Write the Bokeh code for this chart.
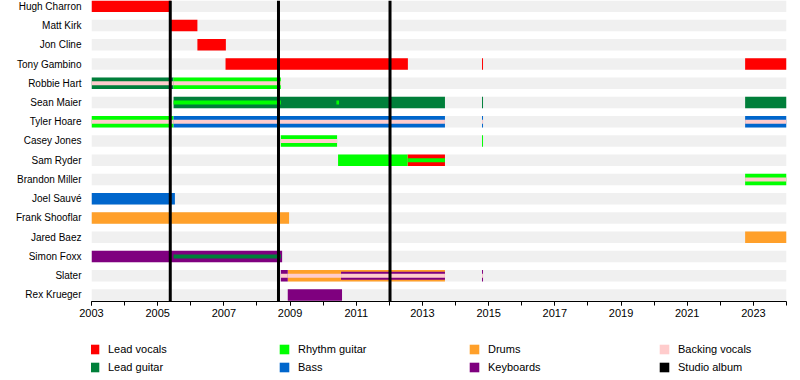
from bokeh.plotting import figure
from bokeh.layouts import column
from bokeh.models import (FixedTicker, Range1d, Legend, LegendItem, ColumnDataSource,
                          PrintfTickFormatter)
from bokeh.embed import file_html
from bokeh.resources import INLINE

# ---------------- data ----------------
members = ["Hugh Charron", "Matt Kirk", "Jon Cline", "Tony Gambino", "Robbie Hart",
           "Sean Maier", "Tyler Hoare", "Casey Jones", "Sam Ryder", "Brandon Miller",
           "Joel Sauvé", "Frank Shooflar", "Jared Baez", "Simon Foxx", "Slater",
           "Rex Krueger"]

roles = ["Lead vocals", "Lead guitar", "Rhythm guitar", "Bass", "Drums",
         "Keyboards", "Backing vocals"]
role_colors = ["#ff0000", "#007f3a", "#00ff00", "#0066cc", "#ffa02a",
               "#7f007f", "#ffcccc"]

timeline_start = 2003.0
timeline_end = 2024.0

# segments: member, start, end, role, layer (0 = main, 1 = secondary, 2 = tertiary)
seg_member = [
    "Hugh Charron",
    "Matt Kirk",
    "Jon Cline",
    "Tony Gambino", "Tony Gambino", "Tony Gambino",
    "Robbie Hart", "Robbie Hart", "Robbie Hart", "Robbie Hart",
    "Sean Maier", "Sean Maier", "Sean Maier", "Sean Maier", "Sean Maier",
    "Tyler Hoare", "Tyler Hoare", "Tyler Hoare", "Tyler Hoare", "Tyler Hoare",
    "Tyler Hoare", "Tyler Hoare", "Tyler Hoare",
    "Casey Jones", "Casey Jones", "Casey Jones",
    "Sam Ryder", "Sam Ryder", "Sam Ryder",
    "Brandon Miller", "Brandon Miller",
    "Joel Sauvé",
    "Frank Shooflar",
    "Jared Baez",
    "Simon Foxx", "Simon Foxx",
    "Slater", "Slater", "Slater", "Slater", "Slater", "Slater", "Slater",
    "Slater", "Slater",
    "Rex Krueger",
]
seg_start = [
    2003.0,
    2005.37,
    2006.2,
    2007.05, 2014.8, 2022.75,
    2003.0, 2003.0, 2005.48, 2005.48,
    2005.48, 2005.48, 2010.4, 2014.8, 2022.75,
    2003.0, 2003.0, 2005.48, 2005.48, 2014.8,
    2014.8, 2022.75, 2022.75,
    2008.72, 2008.72, 2014.8,
    2010.45, 2012.55, 2012.55,
    2022.75, 2022.75,
    2003.0,
    2003.0,
    2022.75,
    2003.0, 2005.48,
    2008.72, 2008.72, 2008.93, 2008.93, 2010.54, 2010.54, 2010.54,
    2014.8, 2014.8,
    2008.93,
]
seg_end = [
    2005.4,
    2006.2,
    2007.06,
    2012.56, 2014.83, 2024.0,
    2005.48, 2005.48, 2008.72, 2008.72,
    2013.68, 2008.72, 2010.48, 2014.83, 2024.0,
    2005.48, 2005.48, 2013.68, 2013.68, 2014.83,
    2014.83, 2024.0, 2024.0,
    2010.42, 2010.42, 2014.83,
    2012.55, 2013.68, 2013.68,
    2024.0, 2024.0,
    2005.52,
    2008.97,
    2024.0,
    2008.76, 2008.72,
    2008.93, 2008.93, 2010.54, 2010.54, 2013.68, 2013.68, 2013.68,
    2014.83, 2014.83,
    2010.57,
]
seg_role = [
    "Lead vocals",
    "Lead vocals",
    "Lead vocals",
    "Lead vocals", "Lead vocals", "Lead vocals",
    "Lead guitar", "Backing vocals", "Rhythm guitar", "Backing vocals",
    "Lead guitar", "Rhythm guitar", "Rhythm guitar", "Lead guitar", "Lead guitar",
    "Rhythm guitar", "Backing vocals", "Bass", "Backing vocals", "Bass",
    "Backing vocals", "Bass", "Backing vocals",
    "Rhythm guitar", "Backing vocals", "Rhythm guitar",
    "Rhythm guitar", "Lead vocals", "Rhythm guitar",
    "Rhythm guitar", "Backing vocals",
    "Bass",
    "Drums",
    "Drums",
    "Keyboards", "Lead guitar",
    "Keyboards", "Backing vocals", "Drums", "Backing vocals", "Drums", "Keyboards",
    "Backing vocals",
    "Keyboards", "Backing vocals",
    "Keyboards",
]
seg_layer = [
    0,
    0,
    0,
    0, 0, 0,
    0, 2, 0, 2,
    0, 2, 2, 0, 0,
    0, 2, 0, 2, 0,
    2, 0, 2,
    0, 2, 0,
    0, 0, 2,
    0, 2,
    0,
    0,
    0,
    0, 2,
    0, 2, 0, 2, 0, 1, 2,
    0, 2,
    0,
]

album_years = [2005.38, 2008.65, 2012.02]

# ---------------- styling ----------------
FONT = "Liberation Sans"
layer_heights = [0.6, 0.42, 0.2]
row_index = {m: i for i, m in enumerate(members)}
color_of = dict(zip(roles, role_colors))

p = figure(output_backend="svg", toolbar_location=None,
           width=800, height=330,
           min_border_left=91, min_border_right=14, min_border_top=0,
           min_border_bottom=29,
           x_range=Range1d(timeline_start, timeline_end),
           y_range=Range1d(len(members) - 1 + 0.34, -0.3))
p.outline_line_color = None
p.xgrid.visible = False
p.ygrid.visible = False
p.background_fill_color = "white"
p.border_fill_color = "white"

# background stripes
p.hbar(y=list(range(len(members))), left=timeline_start, right=timeline_end,
       height=layer_heights[0], fill_color="#f0f0f0", line_color=None)

for layer in range(3):
    for role in roles:
        idx = [k for k in range(len(seg_member))
               if seg_layer[k] == layer and seg_role[k] == role]
        if not idx:
            continue
        src = ColumnDataSource(dict(
            y=[row_index[seg_member[k]] for k in idx],
            left=[seg_start[k] for k in idx],
            right=[seg_end[k] for k in idx]))
        p.hbar(y="y", left="left", right="right", height=layer_heights[layer],
               fill_color=color_of[role], line_color=None, source=src)

# studio album lines
mid_y = (len(members) - 1) / 2 + 0.02
p.rect(x=album_years, y=mid_y, width=3, width_units="screen",
       height=len(members) - 1 + 0.64, fill_color="black", line_color=None)

# axes
xa = p.xaxis[0]
xa.ticker = FixedTicker(ticks=list(range(2003, 2024, 2)),
                        minor_ticks=list(range(2003, 2025)))
xa.formatter = PrintfTickFormatter(format="%d")
xa.major_tick_in = 0
xa.minor_tick_in = 0
xa.major_tick_out = 4
xa.minor_tick_out = 4
xa.axis_line_color = "black"
xa.major_tick_line_color = "black"
xa.minor_tick_line_color = "black"
xa.major_label_text_font = FONT
xa.major_label_text_font_size = "11px"
xa.major_label_text_color = "black"
xa.major_label_standoff = 3

ya = p.yaxis[0]
ya.ticker = FixedTicker(ticks=list(range(len(members))))
ya.major_label_overrides = {i: m for i, m in enumerate(members)}
ya.axis_line_color = None
ya.major_tick_line_color = None
ya.minor_tick_line_color = None
ya.major_tick_out = 0
ya.major_label_standoff = 10
ya.major_label_text_font = FONT
ya.major_label_text_font_size = "10px"
ya.major_label_text_color = "black"

# ---------------- legend panel ----------------
lf = figure(output_backend="svg", toolbar_location=None, width=800, height=50,
            min_border_left=0, min_border_right=0, min_border_top=0,
            min_border_bottom=0, x_axis_location=None, y_axis_location=None,
            x_range=Range1d(0, 1), y_range=Range1d(0, 1))
lf.outline_line_color = None
lf.xgrid.visible = False
lf.ygrid.visible = False

legend_order = ["Lead vocals", "Rhythm guitar", "Drums", "Backing vocals",
                "Lead guitar", "Bass", "Keyboards"]
legend_colors = [color_of[r] for r in legend_order] + ["black"]
legend_labels = legend_order + ["Studio album"]
legend_renderers = []
for c in legend_colors:
    # swatch-only renderer, placed outside the visible range of the legend panel
    legend_renderers.append(lf.hbar(y=[-5], left=[0], right=[1], height=1,
                                    fill_color=c, line_color=None))
items = [LegendItem(label=lab, renderers=[r])
         for lab, r in zip(legend_labels, legend_renderers)]
legend = Legend(items=items, orientation="horizontal", ncols=4,
                location=(-3, 7), padding=0, margin=0, spacing=6,
                border_line_color=None, background_fill_alpha=0,
                glyph_width=12, glyph_height=12, label_height=12,
                label_standoff=8, label_width=164,
                label_text_font=FONT, label_text_font_size="11px",
                label_text_color="black")
lf.add_layout(legend, "center")

layout = column(p, lf, spacing=0)
open("out.html", "w").write(file_html(layout, INLINE))
